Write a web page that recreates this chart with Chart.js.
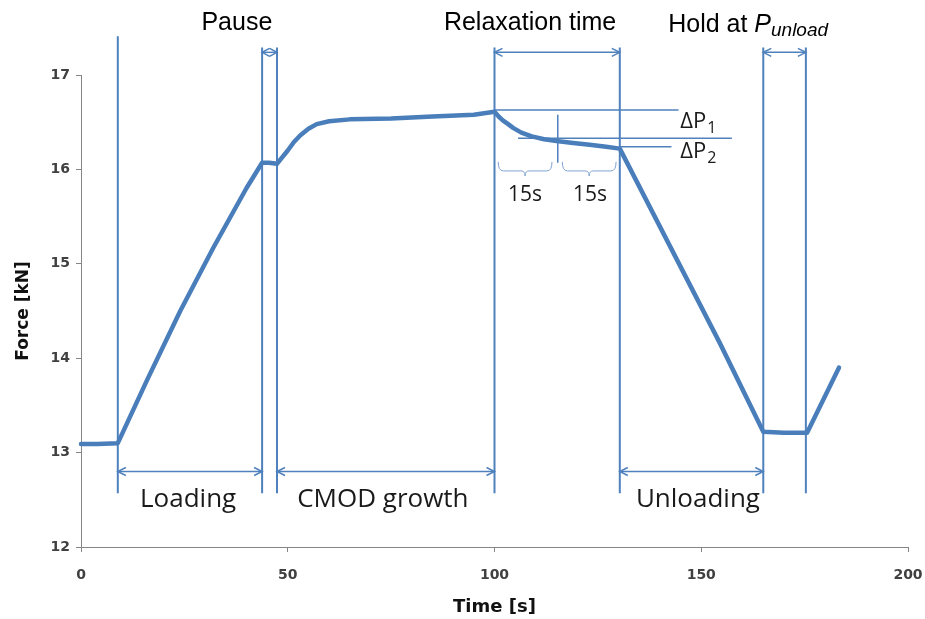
<!DOCTYPE html>
<html>
<head>
<meta charset="utf-8">
<script src="https://cdn.jsdelivr.net/npm/chart.js@4.4.1/dist/chart.umd.min.js"></script>
<style>
  html, body { margin: 0; padding: 0; background: #fff; }
  #wrap { width: 925px; height: 619px; position: relative; }
</style>
</head>
<body>
<div id="wrap"><canvas id="forceChart"></canvas></div>
<script>
// Force vs time
const timeS = [
  0, 4, 8.9, 16, 24, 32, 40, 43.8, 45.5, 47.4,
  48.5, 50, 51.5, 53, 55, 57, 60, 65, 75, 85, 95, 100,
  101, 102, 103.3, 104.5, 106.5, 109, 112, 115, 119, 123, 127, 130.3,
  154.5, 165, 170, 175.6, 183.3
];
const forceKN = [
  13.09, 13.09, 13.1, 13.77, 14.5, 15.17, 15.8, 16.07, 16.07, 16.06,
  16.12, 16.2, 16.29, 16.36, 16.43, 16.48, 16.51, 16.53, 16.54, 16.56, 16.58, 16.61,
  16.56, 16.52, 16.48, 16.44, 16.39, 16.35, 16.32, 16.3, 16.28, 16.26, 16.24, 16.22,
  14.16, 13.22, 13.21, 13.21, 13.9
];

const xTicks = [0, 50, 100, 150, 200];
const yTicks = [12, 13, 14, 15, 16, 17];

// phase boundaries (s)
const phaseTimes = [8.9, 43.8, 47.4, 100, 130.3, 165, 175.3];

const blue = "#4F81BD";
const lineBlue = "#4A7EBB";

function dblArrow(ctx, x1, x2, y) {
  ctx.beginPath();
  ctx.moveTo(x1, y);
  ctx.lineTo(x2, y);
  ctx.stroke();
  const s = Math.min(8, (x2 - x1) / 2);
  ctx.beginPath();
  ctx.moveTo(x1 + s, y - 4); ctx.lineTo(x1, y); ctx.lineTo(x1 + s, y + 4);
  ctx.moveTo(x2 - s, y - 4); ctx.lineTo(x2, y); ctx.lineTo(x2 - s, y + 4);
  ctx.stroke();
}

function brace(ctx, x1, x2, yTop, yBot) {
  const m = (x1 + x2) / 2;
  const yMid = (yTop + yBot) / 2 + 2;
  ctx.beginPath();
  ctx.moveTo(x1, yTop);
  ctx.quadraticCurveTo(x1, yMid, x1 + 5, yMid);
  ctx.lineTo(m - 4, yMid);
  ctx.quadraticCurveTo(m, yMid, m, yBot);
  ctx.quadraticCurveTo(m, yMid, m + 4, yMid);
  ctx.lineTo(x2 - 5, yMid);
  ctx.quadraticCurveTo(x2, yMid, x2, yTop);
  ctx.stroke();
}

const annotations = {
  id: "phaseNotes",
  beforeDatasetsDraw(chart) {
    const ctx = chart.ctx;
    const xs = chart.scales.x, ys = chart.scales.y;
    const X = (t) => xs.getPixelForValue(t);
    const Y = (f) => ys.getPixelForValue(f);
    ctx.save();
    ctx.strokeStyle = blue;

    // vertical phase lines
    ctx.lineWidth = 2;
    phaseTimes.forEach((t, i) => {
      const top = i === 0 ? 17.41 : 17.29;
      ctx.beginPath();
      ctx.moveTo(X(t), Y(top));
      ctx.lineTo(X(t), Y(12.57));
      ctx.stroke();
    });

    // arrows
    ctx.lineWidth = 1.5;
    dblArrow(ctx, X(phaseTimes[1]), X(phaseTimes[2]), Y(17.24));
    dblArrow(ctx, X(phaseTimes[3]), X(phaseTimes[4]), Y(17.24));
    dblArrow(ctx, X(phaseTimes[5]), X(phaseTimes[6]), Y(17.24));
    dblArrow(ctx, X(phaseTimes[0]), X(phaseTimes[1]), Y(12.8));
    dblArrow(ctx, X(phaseTimes[2]), X(phaseTimes[3]), Y(12.8));
    dblArrow(ctx, X(phaseTimes[4]), X(phaseTimes[5]), Y(12.8));

    // delta P lines
    ctx.lineWidth = 1.5;
    ctx.beginPath();
    ctx.moveTo(X(100), Y(16.63)); ctx.lineTo(X(144.5), Y(16.63));
    ctx.moveTo(X(105.7), Y(16.33)); ctx.lineTo(X(157.4), Y(16.33));
    ctx.moveTo(X(130.3), Y(16.24)); ctx.lineTo(X(142.8), Y(16.24));
    ctx.moveTo(X(115.3), Y(16.58)); ctx.lineTo(X(115.3), Y(16.07));
    ctx.stroke();

    ctx.lineWidth = 1;
    ctx.strokeStyle = "#7FA3D3";
    brace(ctx, X(100.9), X(113.9), Y(16.08), Y(15.93));
    brace(ctx, X(116.4), X(129.4), Y(16.08), Y(15.93));

    // texts
    ctx.fillStyle = "#000";
    ctx.textBaseline = "alphabetic";
    ctx.font = "25px 'Liberation Sans', Arial, sans-serif";
    ctx.textAlign = "center";
    ctx.fillText("Pause", X(37.7), Y(17.48));
    ctx.fillText("Relaxation time", X(108.6), Y(17.48));
    ctx.textAlign = "left";
    let hx = X(142);
    const hy = Y(17.46);
    ctx.fillText("Hold at ", hx, hy);
    hx += ctx.measureText("Hold at ").width;
    ctx.font = "italic 25px 'Liberation Sans', Arial, sans-serif";
    ctx.fillText("P", hx, hy);
    hx += ctx.measureText("P").width;
    ctx.font = "italic 19px 'Liberation Sans', Arial, sans-serif";
    ctx.fillText("unload", hx, hy + 4);

    ctx.fillStyle = "#1a1a1a";
    ctx.font = "26px 'Open Sans', sans-serif";
    ctx.textAlign = "center";
    ctx.fillText("Loading", X(25.9), Y(12.42));
    ctx.fillText("CMOD growth", X(73), Y(12.42));
    ctx.fillText("Unloading", X(149.2), Y(12.42));

    ctx.font = "21px 'Open Sans', sans-serif";
    ctx.fillText("15s", X(107.4), Y(15.67));
    ctx.fillText("15s", X(123.1), Y(15.67));

    ctx.textAlign = "left";
    const dx = X(144.9);
    [["1", 16.44], ["2", 16.12]].forEach(([sub, f]) => {
      ctx.font = "22px 'Open Sans', sans-serif";
      ctx.fillText("\u0394P", dx, Y(f));
      const w = ctx.measureText("\u0394P").width;
      ctx.font = "16px 'Open Sans', sans-serif";
      ctx.fillText(sub, dx + w + 1, Y(f) + 5);
    });
    ctx.restore();
  },
};

new Chart(document.getElementById("forceChart"), {
  type: "scatter",
  data: {
    datasets: [
      {
        data: timeS.map((t, i) => ({ x: t, y: forceKN[i] })),
        showLine: true,
        borderColor: lineBlue,
        borderWidth: 4.5,
        borderJoinStyle: "round",
        borderCapStyle: "round",
        pointRadius: 0,
        tension: 0,
        clip: false,
      },
    ],
  },
  options: {
    responsive: true,
    maintainAspectRatio: false,
    animation: false,
    layout: { padding: { top: 75, right: 17, left: 0, bottom: 0 } },
    plugins: { legend: { display: false }, tooltip: { enabled: false } },
    scales: {
      x: {
        type: "linear",
        min: 0,
        max: 200,
        afterBuildTicks: (s) => { s.ticks = xTicks.map((v) => ({ value: v })); },
        afterFit: (s) => { s.height = 72; s.paddingLeft = 0; s.paddingRight = 0; },
        ticks: {
          padding: 15,
          color: "#404040",
          font: { family: "DejaVu Sans", size: 14, weight: "bold" },
        },
        grid: { drawOnChartArea: false, tickLength: 5, color: "#868686" },
        border: { color: "#868686" },
        title: {
          display: true,
          text: "Time [s]",
          color: "#111",
          padding: { top: 0, bottom: 1 },
          font: { family: "DejaVu Sans", size: 18, weight: "bold" },
        },
      },
      y: {
        min: 12,
        max: 17,
        afterBuildTicks: (s) => { s.ticks = yTicks.map((v) => ({ value: v })); },
        afterFit: (s) => { s.width = 81; s.paddingTop = 0; s.paddingBottom = 0; },
        ticks: {
          padding: 6,
          color: "#404040",
          font: { family: "DejaVu Sans", size: 14, weight: "bold" },
        },
        grid: { drawOnChartArea: false, tickLength: 5, color: "#868686" },
        border: { color: "#868686" },
        title: {
          display: true,
          text: "Force [kN]",
          color: "#111",
          padding: { top: 13, bottom: 0 },
          font: { family: "DejaVu Sans", size: 17, weight: "bold" },
        },
      },
    },
  },
  plugins: [annotations],
});
</script>
</body>
</html>
